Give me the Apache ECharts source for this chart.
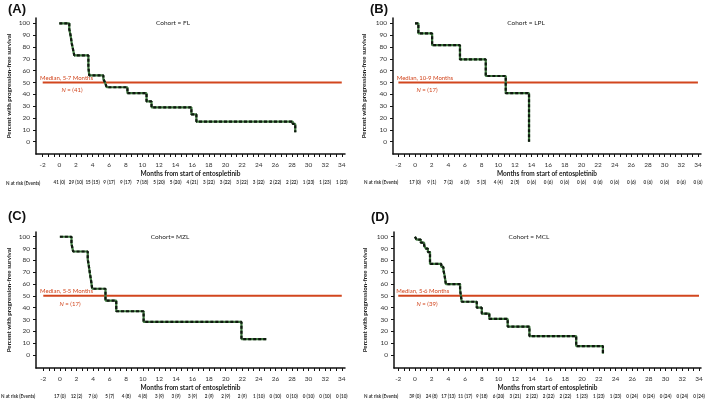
<!DOCTYPE html>
<html><head><meta charset="utf-8">
<script src="https://cdn.jsdelivr.net/npm/echarts@6/dist/echarts.min.js"></script>
<style>html,body{margin:0;padding:0;background:#fff}#c{width:709px;height:402px}</style>
</head><body><div id="c"></div>
<script>
// ---- data ----
const xTickLabels = [-2,0,2,4,6,8,10,12,14,16,18,20,22,24,26,28,30,32,34];
const yTickLabels = [0,10,20,30,40,50,60,70,80,90,100];
const riskMonths = [0,2,4,6,8,10,12,14,16,18,20,22,24,26,28,30,32,34];
const cohortNames = ['FL','LPL','MZL','MCL'];
const cohortTitles = ['Cohort = FL','Cohort = LPL','Cohort= MZL','Cohort = MCL'];
const panelLetters = ['(A)','(B)','(C)','(D)'];
const medianLabels = ['Median, 5·7 Months','Median, 10·9 Months','Median, 5·5 Months','Median, 5·6 Months'];
const nCounts = [41,17,17,39];
const medianLevel = 50;
const medianSpan = [-2,34];

const timesFL = [0,1.2,1.35,1.5,1.65,1.8,3.5,3.6,5.3,5.5,5.7,8.2,10.5,11.1,15.9,16.5,28.1,28.4];
const survFL  = [100,95,90,83,78,73,63,56,53,50,46,41,34,29,23,17,15,8];
const timesLPL = [0,0.4,2.05,5.4,8.5,10.9,13.7];
const survLPL  = [100,91.5,81.5,69.5,55.5,41,0];
const timesMZL = [0,1.4,1.6,3.36,3.5,3.62,3.76,3.9,5.5,6.8,10.1,21.9,24.9];
const survMZL  = [100,94,87.5,81,75,69,63,56,46,37,28,13.5,13.5];
const timesMCL = [0,0.2,0.7,1.1,1.3,1.55,1.8,3.15,3.4,3.55,3.7,5.4,5.5,5.6,7.4,8.0,8.9,11.1,13.7,19.3,22.5];
const survMCL  = [100,97.5,95,92.5,90,87,77,74.5,72,67,60,55,50,45,40,35,30.5,24,16,7.5,1];

const riskFL  = ['41 (0)','29 (10)','15 (15)','9 (17)','9 (17)','7 (18)','5 (20)','5 (20)','4 (21)','3 (22)','3 (22)','3 (22)','3 (22)','2 (22)','2 (22)','1 (23)','1 (23)','1 (23)'];
const riskLPL = ['17 (0)','9 (1)','7 (2)','6 (3)','5 (3)','4 (4)','2 (5)','0 (6)','0 (6)','0 (6)','0 (6)','0 (6)','0 (6)','0 (6)','0 (6)','0 (6)','0 (6)','0 (6)'];
const riskMZL = ['17 (0)','12 (2)','7 (6)','5 (7)','4 (8)','4 (8)','3 (9)','3 (9)','3 (9)','2 (9)','2 (9)','2 (9)','1 (10)','0 (10)','0 (10)','0 (10)','0 (10)','0 (10)'];
const riskMCL = ['39 (0)','24 (8)','17 (13)','11 (17)','9 (18)','6 (20)','3 (21)','2 (22)','2 (22)','2 (22)','1 (23)','1 (23)','1 (23)','0 (24)','0 (24)','0 (24)','0 (24)','0 (24)'];

const kmTimes = [timesFL,timesLPL,timesMZL,timesMCL];
const kmSurv = [survFL,survLPL,survMZL,survMCL];
const riskRows = [riskFL,riskLPL,riskMZL,riskMCL];

// ---- layout ----
const grids = [
  {left:36, top:18, width:309, height:136},
  {left:393, top:18, width:308, height:136},
  {left:36, top:232, width:309, height:136},
  {left:394, top:232, width:307, height:136}
];
const xRanges = [[-2.807,34.39],[-2.65,34.37],[-2.88,34.39],[-2.51,34.24]];
const yRanges = [[-10.4,104.5],[-10.4,104.5],[-11,104],[-11,104]];
const letterPos = [[8,10],[370,10],[8,217],[371,218]];
const cohortPos = [[173,23],[526,23],[170,237],[529,237]];
const medianPos = [[40,77.7],[396.7,77.7],[40,290.7],[396.3,290.7]];
const nPos = [[72,90],[427,90],[70,304],[427,304]];
const riskHeadPos = [[6,183.3],[364,182.7],[1,397],[364,397]];

const minorTicks = [];
for (let v = -2; v <= 34.001; v += 2/3) minorTicks.push(+v.toFixed(4));

const FONT = 'Lato, "Open Sans", sans-serif';
const RED = '#D2461E';

const xAxes = [], yAxes = [], series = [], graphic = [];
for (let i = 0; i < 4; i++) {
  xAxes.push({
    type:'value', gridIndex:i, min:xRanges[i][0], max:xRanges[i][1],
    name:'Months from start of entospletinib', nameLocation:'middle', nameGap:16,
    nameTextStyle:{fontFamily:FONT, fontWeight:'bold', fontSize:6.5, color:'#222'},
    axisLine:{show:true, onZero:false, lineStyle:{color:'#111', width:1.5}},
    axisTick:{show:true, length:3, customValues:minorTicks, lineStyle:{color:'#111', width:1}},
    axisLabel:{customValues:xTickLabels, margin:7, fontFamily:FONT, fontSize:6.5, color:'#333'},
    splitLine:{show:false}
  });
  const rr = riskRows[i];
  xAxes.push({
    type:'value', gridIndex:i, min:xRanges[i][0], max:xRanges[i][1], position:'bottom', offset:19,
    axisLine:{show:false}, axisTick:{show:false}, splitLine:{show:false},
    axisLabel:{customValues:riskMonths, margin:7, fontFamily:FONT, fontSize:4.6, fontWeight:'bold', color:'#333',
      formatter:(v)=>{ const k = riskMonths.indexOf(Math.round(v)); return k>=0 ? rr[k] : ''; }}
  });
  yAxes.push({
    type:'value', gridIndex:i, min:yRanges[i][0], max:yRanges[i][1],
    name:'Percent with progression-free survival', nameLocation:'middle', nameGap:i%2===0?24:26,
    nameTextStyle:{fontFamily:FONT, fontWeight:'bold', fontSize:6.2, color:'#222'},
    axisLine:{show:true, onZero:false, lineStyle:{color:'#111', width:1.5}},
    axisTick:{show:true, length:3, customValues:yTickLabels, lineStyle:{color:'#111', width:1}},
    axisLabel:{customValues:yTickLabels, margin:6, fontFamily:FONT, fontSize:6.5, color:'#333'},
    splitLine:{show:false}
  });
  const pts = kmTimes[i].map((t,k)=>[t, kmSurv[i][k]]);
  series.push({type:'line', xAxisIndex:2*i, yAxisIndex:i, step:'end', data:pts, symbol:'none',
    lineStyle:{color:'#3f7a3f', width:2.2}, silent:true, z:3});
  series.push({type:'line', xAxisIndex:2*i, yAxisIndex:i, step:'end', data:pts, symbol:'none',
    lineStyle:{color:'#101810', width:2.2, type:[3,2]}, silent:true, z:4});
  series.push({type:'line', xAxisIndex:2*i, yAxisIndex:i,
    data:[[medianSpan[0],medianLevel],[medianSpan[1],medianLevel]], symbol:'none',
    lineStyle:{color:RED, width:2}, silent:true, z:2});

  graphic.push({type:'text', left:letterPos[i][0], top:letterPos[i][1]-7,
    style:{text:panelLetters[i], font:'bold 13px "Liberation Sans", Arial, sans-serif', fill:'#111'}});
  graphic.push({type:'text', x:cohortPos[i][0], y:cohortPos[i][1],
    style:{text:cohortTitles[i], font:'6.5px '+FONT, fill:'#222', textAlign:'center', textVerticalAlign:'middle'}});
  graphic.push({type:'text', x:medianPos[i][0], y:medianPos[i][1],
    style:{text:medianLabels[i], font:'6px '+FONT, fill:RED, textAlign:'left', textVerticalAlign:'middle'}});
  graphic.push({type:'text', x:nPos[i][0], y:nPos[i][1],
    style:{text:'{i|N} = ('+nCounts[i]+')', textAlign:'center', textVerticalAlign:'middle',
      rich:{i:{fontStyle:'italic', fontFamily:FONT, fontSize:6, fill:RED, color:RED}},
      font:'6px '+FONT, fill:RED}});
  graphic.push({type:'text', x:riskHeadPos[i][0], y:riskHeadPos[i][1],
    style:{text:'N at risk (Events)', font:'bold 4.6px '+FONT, fill:'#333', textAlign:'left', textVerticalAlign:'middle'}});
}

const chart = echarts.init(document.getElementById('c'), null, {renderer:'canvas'});
chart.setOption({
  animation:false, backgroundColor:'#fff',
  grid:grids.map(g=>Object.assign({containLabel:false}, g)),
  xAxis:xAxes, yAxis:yAxes, series:series, graphic:graphic
});
</script></body></html>
